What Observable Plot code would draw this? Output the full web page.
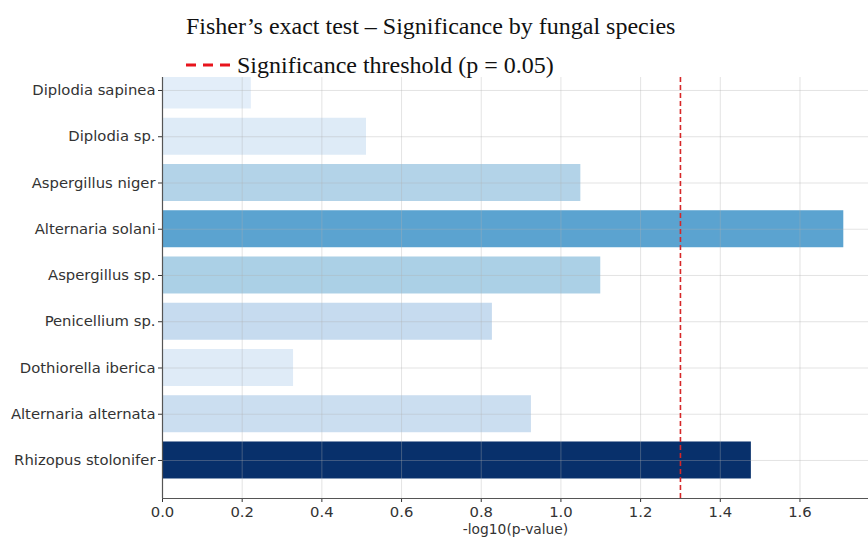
<!DOCTYPE html>
<html>
<head>
<meta charset="utf-8">
<script src="https://cdn.jsdelivr.net/npm/d3@7"></script>
<script src="https://cdn.jsdelivr.net/npm/@observablehq/plot@0.6"></script>
<style>
  html, body { margin: 0; padding: 0; background: #fff; }
  #wrap { position: relative; width: 868px; height: 539px; overflow: hidden; }
  #chart { position: absolute; left: 0; top: 77px; width: 868px; }
  .ttl { position: absolute; font-family: "Liberation Serif", "Times New Roman", serif; font-size: 24px; color: #111; white-space: nowrap; z-index: 2; line-height: 1; }
  #title { left: 186px; top: 14px; }
  #legend { left: 186px; top: 53px; display: flex; align-items: center; }
  #legend svg { margin-right: 5px; }
</style>
</head>
<body>
<div id="wrap">
  <div id="title" class="ttl">Fisher’s exact test – Significance by fungal species</div>
  <div id="legend" class="ttl"><svg width="46" height="6"><line x1="0" y1="3" x2="46" y2="3" stroke="#e8141c" stroke-width="3" stroke-dasharray="10,7"/></svg><span>Significance threshold (p = 0.05)</span></div>
  <div id="chart"></div>
</div>
<script>
const species = ["Diplodia sapinea", "Diplodia sp.", "Aspergillus niger", "Alternaria solani", "Aspergillus sp.", "Penicellium sp.", "Dothiorella iberica", "Alternaria alternata", "Rhizopus stolonifer"];
const negLogP = [0.223, 0.512, 1.05, 1.71, 1.10, 0.828, 0.329, 0.926, 1.478];
const barColors = ["#e3eef9", "#deebf7", "#b3d3e8", "#5ba3d0", "#abd0e6", "#c6dbef", "#dfebf7", "#cbdef0", "#08306b"];
const xTicks = [0, 0.2, 0.4, 0.6, 0.8, 1.0, 1.2, 1.4, 1.6];
const threshold = [1.3];
const xLabel = ["-log10(p-value)"];

const idx = species.map((s, i) => i);
const data = species.map((s, i) => ({i, species: s, value: negLogP[i], color: barColors[i]}));
const yBottom = 8.822, yTop = -0.281;

const plot = Plot.plot({
  width: 868,
  height: 462,
  marginLeft: 162,
  marginRight: 0,
  marginTop: 0,
  marginBottom: 41,
  style: {fontFamily: "DejaVu Sans, sans-serif", fontSize: "14.8px", color: "#333", background: "white"},
  x: {domain: [0, 1.772], ticks: xTicks, tickFormat: d => d.toFixed(1), label: null, tickSize: 4, tickPadding: 4},
  y: {type: "linear", domain: [yBottom, yTop], ticks: idx, tickFormat: i => species[i], label: null, tickSize: 4, tickPadding: 3},
  marks: [
    Plot.rectX(data, {y1: d => d.i - 0.4, y2: d => d.i + 0.4, x1: 0, x2: "value", fill: "color"}),
    Plot.gridX(xTicks, {stroke: "#b0b0b0", strokeOpacity: 0.35}),
    Plot.gridY(idx, {stroke: "#b0b0b0", strokeOpacity: 0.35}),
    Plot.ruleX(threshold, {stroke: "#d62728", strokeWidth: 1.6, strokeDasharray: "5,3"}),
    Plot.ruleX([0], {stroke: "#555", strokeWidth: 1.2}),
    Plot.ruleY([yBottom], {stroke: "#555", strokeWidth: 1.2}),
    Plot.text(xLabel, {frameAnchor: "bottom", lineAnchor: "middle", dy: 31, fill: "#333", fontSize: 13.8})
  ]
});
document.getElementById("chart").appendChild(plot);
</script>
</body>
</html>
